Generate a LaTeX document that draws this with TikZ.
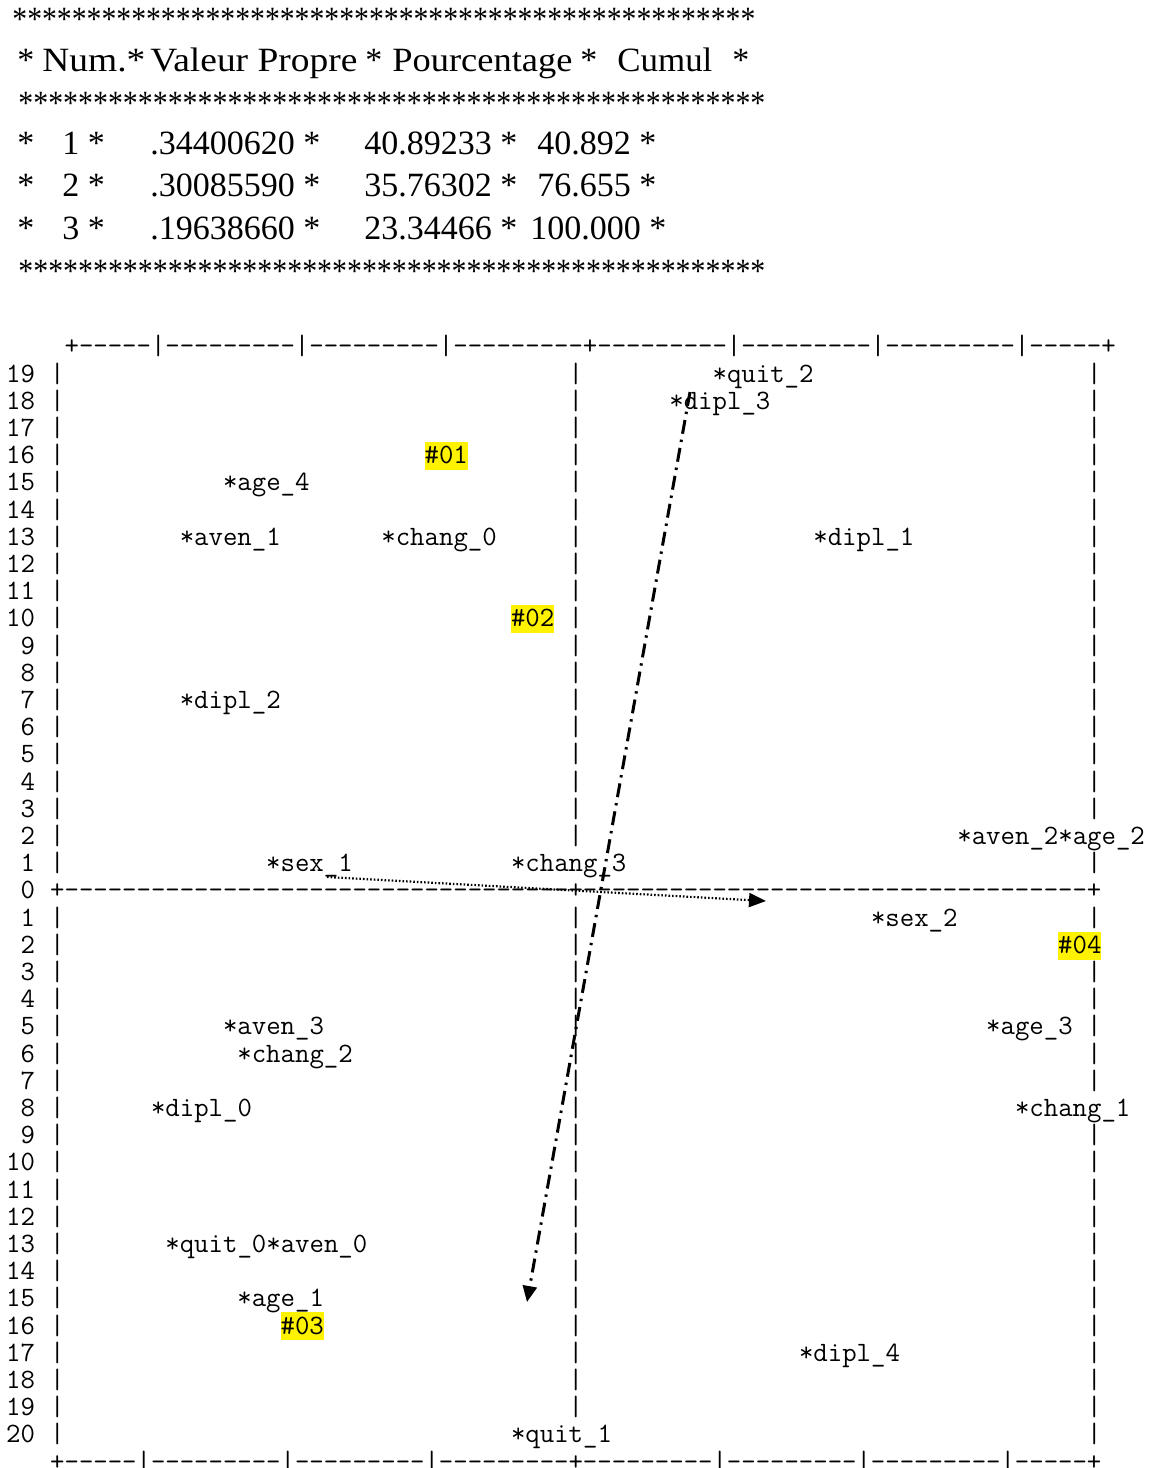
\documentclass[tikz,border=0pt]{standalone}
\usepackage{fontspec}
\setmainfont{Liberation Serif}
\setmonofont{Latin Modern Mono}
\usetikzlibrary{arrows.meta}
\newsavebox\fitbox
\newcommand\fitw[2]{\sbox\fitbox{#2}\edef\fitnat{\the\wd\fitbox}\pgfmathsetmacro\fitr{#1*0.5pt/\fitnat}\scalebox{\fitr}[1]{\usebox\fitbox}}
\newcommand\gnode[4]{\node[mono] (#1) at ({6.6+(#2)*14.4},{382+(#3)*27.2}) {#4};}
\newcommand\hnode[4]{\node[mono,hl] (#1) at ({6.6+(#2)*14.4},{382+(#3)*27.2}) {#4};}
\begin{document}
\begin{tikzpicture}[x=0.5pt,y=-0.5pt,
  tab/.style={anchor=base west,inner sep=0pt,font=\fontsize{17}{20}\selectfont},
  mono/.style={anchor=base west,inner sep=0pt,font=\fontsize{14}{16}\selectfont\ttfamily},
  hl/.style={fill=yellow,text height=10.8pt,text depth=3.2pt},
  axisA/.style={line width=1.5pt,dash pattern=on 7pt off 3pt on 1.2pt off 3pt,-{Triangle[length=8pt,width=7pt]}},
  axisB/.style={line width=1.1pt,dash pattern=on 0.8pt off 1pt,-{Triangle[length=8.5pt,width=7pt]}}]
\useasboundingbox (0,0) rectangle (1149,1468);
% ---- table ----
\node[tab] (s1) at (12,30) {\fitw{743}{**************************************************}};
\node[tab] (h1) at (17,71.5) {*};
\node[tab] (h2) at (42,71.5) {\fitw{103}{Num.*}};
\node[tab] (h3) at (150,71.5) {\fitw{207}{Valeur Propre}};
\node[tab] (h4) at (365,71.5) {*};
\node[tab] (h5) at (392,71.5) {\fitw{180}{Pourcentage}};
\node[tab] (h6) at (580,71.5) {*};
\node[tab] (h7) at (617,71.5) {\fitw{95}{Cumul}};
\node[tab] (h8) at (732,71.5) {*};
\node[tab] (s2) at (18,114) {\fitw{747}{**************************************************}};
\node[tab] (r1a) at (17,154.5) {*};
\node[tab] (r1b) at (62,154.5) {1 *};
\node[tab] (r1c) at (150,154.5) {.34400620 *};
\node[tab] (r1d) at (364,154.5) {40.89233 *};
\node[tab] (r1e) at (537,154.5) {40.892 *};
\node[tab] (r2a) at (17,196.5) {*};
\node[tab] (r2b) at (62,196.5) {2 *};
\node[tab] (r2c) at (150,196.5) {.30085590 *};
\node[tab] (r2d) at (364,196.5) {35.76302 *};
\node[tab] (r2e) at (537,196.5) {76.655 *};
\node[tab] (r3a) at (17,239.5) {*};
\node[tab] (r3b) at (62,239.5) {3 *};
\node[tab] (r3c) at (150,239.5) {.19638660 *};
\node[tab] (r3d) at (364,239.5) {23.34466 *};
\node[tab] (r3e) at (530,239.5) {100.000 *};
\node[tab] (s3) at (18,282) {\fitw{747}{**************************************************}};
% ---- plot frame ----
\node[mono] (top) at ({6.6+4*14.4},{382-27.2}) {\fitw{1051.2}{+-----|---------|---------|---------+---------|---------|---------|-----+}};
\node[mono,text depth=0pt] (bot) at ({6.6+3*14.4},{382+40*27.2}) {\fitw{1051.2}{+-----|---------|---------|---------+---------|---------|---------|-----+}};
\node[mono] (zero) at ({6.6+3*14.4},{382+19*27.2}) {\fitw{1051.2}{+-----------------------------------+-----------------------------------+}};
\foreach \r in {1,...,19}{\node[mono,anchor=base east] (u\r) at (35.4,{382+(19-\r)*27.2}) {\r};}
\node[mono,anchor=base east] (z0) at (35.4,{382+19*27.2}) {0};
\foreach \r in {1,...,20}{\node[mono,anchor=base east] (d\r) at (35.4,{382+(19+\r)*27.2}) {\r};}
\foreach \L in {0,...,39}{%
  \ifnum\L=19 \else \node[mono] (lb\L) at ({6.6+3*14.4},{382+\L*27.2}) {|};\fi
  \ifnum\L=18 \else\ifnum\L=19 \else\ifnum\L=39 \else \node[mono] (mb\L) at ({6.6+39*14.4},{382+\L*27.2}) {|};\fi\fi\fi
  \ifnum\L=17 \else\ifnum\L=19 \else\ifnum\L=21 \else\ifnum\L=27 \else \node[mono] (rb\L) at ({6.6+75*14.4},{382+\L*27.2}) {|};\fi\fi\fi\fi
}
% ---- labels ----
\gnode{quitB}{49}{0}{*quit\_2}
\gnode{diplC}{46}{1}{*dipl\_3}
\hnode{n01}{29}{3}{\#01}
\gnode{ageD}{15}{4}{*age\_4}
\gnode{avenA}{12}{6}{*aven\_1}
\gnode{changZ}{26}{6}{*chang\_0}
\gnode{diplA}{56}{6}{*dipl\_1}
\hnode{n02}{35}{9}{\#02}
\gnode{diplB}{12}{12}{*dipl\_2}
\gnode{avenB}{66}{17}{*aven\_2*age\_2}
\gnode{sexA}{18}{18}{*sex\_1}
\gnode{changC}{35}{18}{*chang\_3}
\gnode{sexB}{60}{20}{*sex\_2}
\hnode{n04}{73}{21}{\#04}
\gnode{avenC}{15}{24}{*aven\_3}
\gnode{ageC}{68}{24}{*age\_3}
\gnode{changB}{16}{25}{*chang\_2}
\gnode{diplZ}{10}{27}{*dipl\_0}
\gnode{changA}{70}{27}{*chang\_1}
\gnode{quitZ}{11}{32}{*quit\_0*aven\_0}
\gnode{ageA}{16}{34}{*age\_1}
\hnode{n03}{19}{35}{\#03}
\gnode{diplD}{55}{36}{*dipl\_4}
\gnode{quitA}{35}{39}{*quit\_1}
% ---- arrows ----
\coordinate (a1) at (690,392);
\coordinate (a2) at (527,1302);
\draw[axisA] (a1) -- (a2);
\coordinate (b1) at (327,877);
\coordinate (b2) at (766,901);
\draw[axisB] (b1) -- (b2);
\end{tikzpicture}
\end{document}
